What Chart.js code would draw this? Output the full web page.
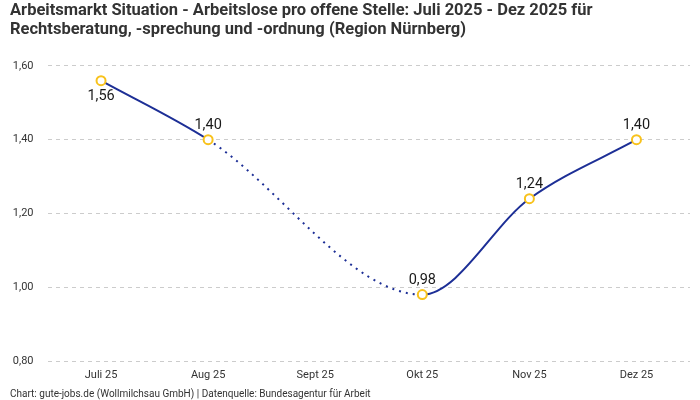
<!DOCTYPE html>
<html>
<head>
<meta charset="utf-8">
<script src="https://cdn.jsdelivr.net/npm/chart.js@4.4.1/dist/chart.umd.min.js"></script>
<style>
  html, body { margin: 0; padding: 0; background: #fff; }
  #wrap { width: 700px; height: 400px; position: relative; }
</style>
</head>
<body>
<div id="wrap"><canvas id="c"></canvas></div>
<script>
const categories = ['Juli 25', 'Aug 25', 'Sept 25', 'Okt 25', 'Nov 25', 'Dez 25'];
const values = [1.56, 1.40, null, 0.98, 1.24, 1.40];
const yMin = 0.8;
const yMax = 1.6;
const yStep = 0.2;
const titleLines = [
  'Arbeitsmarkt Situation - Arbeitslose pro offene Stelle: Juli 2025 - Dez 2025 für',
  'Rechtsberatung, -sprechung und -ordnung (Region Nürnberg)'
];
const footerText = 'Chart: gute-jobs.de (Wollmilchsau GmbH) | Datenquelle: Bundesagentur für Arbeit';

const FONT = 'Roboto, "Noto Sans", sans-serif';
const fmt = v => v.toFixed(2).replace('.', ',');

const labelPlugin = {
  id: 'pointLabels',
  afterDatasetsDraw(chart) {
    const ctx = chart.ctx;
    const meta = chart.getDatasetMeta(0);
    ctx.save();
    ctx.font = '14.5px ' + FONT;
    ctx.fillStyle = '#1a1a1a';
    ctx.textAlign = 'center';
    meta.data.forEach((pt, i) => {
      const v = values[i];
      if (v === null) return;
      if (i === 0) {
        ctx.textBaseline = 'top';
        ctx.fillText(fmt(v), pt.x, pt.y + 8);
      } else {
        ctx.textBaseline = 'bottom';
        ctx.fillText(fmt(v), pt.x, pt.y - 7);
      }
    });
    ctx.restore();
  }
};

const skipped = (ctx, val) => (ctx.p0.skip || ctx.p1.skip) ? val : undefined;

new Chart(document.getElementById('c'), {
  type: 'line',
  data: {
    labels: categories,
    datasets: [{
      data: values,
      borderColor: '#1d2f96',
      borderWidth: 2,
      cubicInterpolationMode: 'monotone',
      spanGaps: true,
      pointRadius: 4.5,
      pointHoverRadius: 4.5,
      pointBorderWidth: 2,
      pointBorderColor: '#f8c21c',
      pointBackgroundColor: '#ffffff',
      segment: {
        borderDash: ctx => skipped(ctx, [2, 5])
      }
    }]
  },
  options: {
    responsive: true,
    maintainAspectRatio: false,
    animation: false,
    layout: { padding: { left: 10, right: 10, top: 0, bottom: 1 } },
    plugins: {
      legend: { display: false },
      tooltip: { enabled: false },
      title: {
        display: true,
        text: titleLines,
        align: 'start',
        color: '#333',
        font: { family: FONT, size: 16.5, weight: 'bold', lineHeight: 1.12 },
        padding: { top: 2, bottom: 27 }
      },
      subtitle: {
        display: true,
        position: 'bottom',
        text: footerText,
        align: 'start',
        color: '#333',
        font: { family: FONT, size: 10, lineHeight: 1 },
        padding: { top: 7, bottom: 0 }
      }
    },
    scales: {
      x: {
        offset: true,
        afterFit: s => { s.height = 21; },
        grid: { display: false, drawTicks: false },
        border: { display: false },
        ticks: { color: '#333', font: { family: FONT, size: 11, lineHeight: 1 }, padding: 9 }
      },
      y: {
        min: yMin,
        max: yMax,
        afterFit: s => { s.width = 37.5; },
        ticks: {
          stepSize: yStep,
          color: '#333',
          font: { family: FONT, size: 11 },
          padding: 14,
          callback: v => fmt(v)
        },
        grid: { color: '#cccccc', drawTicks: false, lineWidth: 1 },
        border: { display: false, dash: [4, 4] }
      }
    }
  },
  plugins: [labelPlugin]
});
</script>
</body>
</html>
